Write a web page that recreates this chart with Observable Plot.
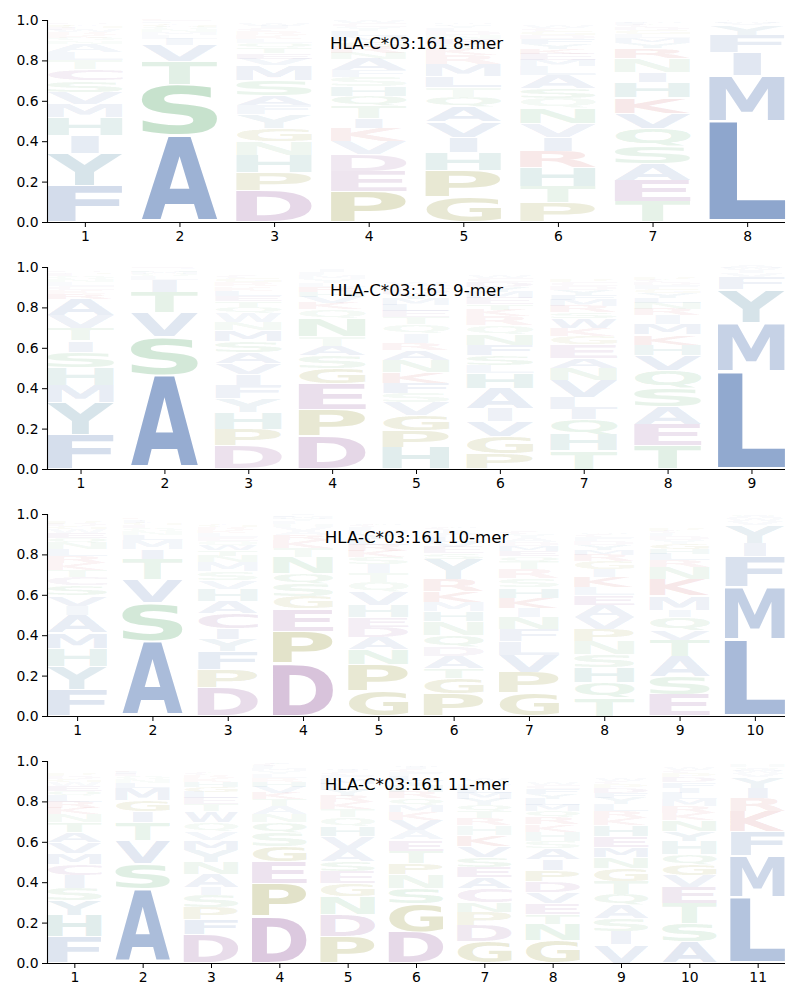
<!DOCTYPE html>
<html><head><meta charset="utf-8">
<script src="https://cdn.jsdelivr.net/npm/d3@7"></script>
<script src="https://cdn.jsdelivr.net/npm/@observablehq/plot@0.6"></script>
<style>body{margin:0;background:#fff} #chart svg{display:block}</style>
</head><body><div id="chart"></div>
<script>
// ---- Data (letter heights, listed bottom -> top for each position) ----
const titles = ["HLA-C*03:161 8-mer", "HLA-C*03:161 9-mer", "HLA-C*03:161 10-mer", "HLA-C*03:161 11-mer"];
const yTicks = [0, 0.2, 0.4, 0.6, 0.8, 1.0];

const mer8 = [
  {F:.18,Y:.16,I:.09,H:.088,M:.065,V:.06,S:.057,C:.055,T:.045,L:.042,A:.04,N:.015,Q:.015,K:.014,R:.012,W:.012,E:.01,G:.01,P:.008,D:.008},
  {A:.43,S:.25,T:.115,V:.08,I:.03,L:.02,M:.015,N:.015,Q:.012,G:.01,C:.008,F:.008,E:.005,K:.004},
  {D:.157,P:.086,H:.088,N:.07,G:.065,Y:.066,F:.046,A:.05,S:.074,M:.074,V:.03,E:.028,T:.026,Q:.024,L:.022,K:.02,R:.018,C:.016,I:.012,W:.01},
  {P:.15,E:.10,D:.083,V:.066,K:.066,I:.05,T:.058,Q:.05,H:.05,S:.045,F:.03,A:.058,N:.03,R:.03,G:.028,M:.025,L:.025,Y:.022,C:.018,W:.015},
  {G:.125,P:.13,H:.09,I:.075,V:.075,A:.075,Q:.05,T:.045,L:.055,M:.06,R:.045,K:.03,S:.025,E:.025,N:.02,D:.02,F:.015,Y:.012,C:.008,W:.005},
  {P:.095,T:.08,H:.095,R:.08,I:.07,V:.07,N:.075,Q:.045,S:.05,A:.065,L:.045,M:.03,E:.03,K:.025,Y:.025,F:.025,D:.02,G:.02,C:.015,W:.01},
  {T:.10,E:.105,A:.085,S:.085,Q:.09,V:.075,K:.075,H:.075,I:.05,N:.07,R:.05,Y:.025,M:.025,L:.02,G:.02,D:.015,C:.012,F:.01,W:.005},
  {L:.50,M:.225,I:.115,F:.085,Y:.05,V:.01,W:.008,A:.007}
];
const mer9 = [
  {F:.17,Y:.16,M:.085,H:.085,S:.08,I:.055,T:.06,V:.065,A:.08,R:.025,K:.02,C:.02,L:.02,N:.015,Q:.015,E:.01,G:.008,D:.007},
  {A:.465,S:.19,V:.12,T:.10,I:.06,L:.02,Q:.012,M:.01,N:.008,C:.005,G:.005,E:.005},
  {D:.115,P:.08,H:.083,Y:.07,F:.065,I:.055,V:.055,A:.055,S:.055,M:.055,N:.04,W:.045,Q:.03,T:.03,E:.025,L:.025,K:.02,R:.02,G:.02,C:.015},
  {D:.165,P:.13,E:.13,G:.075,S:.06,A:.05,T:.045,N:.09,Q:.045,K:.03,V:.03,H:.025,R:.025,L:.02,Y:.02,M:.02,F:.015,I:.01,C:.005},
  {H:.105,P:.085,G:.075,V:.065,S:.045,F:.05,K:.055,N:.06,A:.05,R:.035,I:.045,Q:.045,T:.035,E:.03,L:.03,M:.03,Y:.025,D:.025,C:.02,W:.015},
  {P:.075,G:.085,V:.075,I:.065,A:.1,H:.075,L:.04,S:.05,F:.05,N:.05,Q:.045,R:.045,K:.03,T:.03,E:.03,M:.03,Y:.025,D:.025,C:.02,W:.01},
  {T:.09,H:.08,Q:.075,I:.05,L:.06,V:.085,N:.06,A:.05,E:.065,G:.04,K:.04,W:.05,S:.03,R:.03,M:.03,F:.025,Y:.025,D:.02,C:.02,P:.015},
  {T:.115,E:.105,A:.09,S:.09,Q:.09,V:.075,H:.05,K:.05,M:.05,I:.045,R:.03,N:.03,L:.025,Y:.025,G:.02,F:.02,D:.015,C:.01,P:.01},
  {L:.485,M:.24,Y:.165,F:.06,V:.02,I:.015,W:.01,A:.01}
];
const mer10 = [
  {F:.13,Y:.115,H:.09,M:.075,A:.09,I:.045,V:.05,S:.05,C:.04,T:.035,K:.035,R:.035,L:.035,N:.03,Q:.025,E:.025,W:.02,G:.015,D:.01,P:.01},
  {A:.37,S:.19,V:.115,T:.10,I:.05,M:.045,L:.025,N:.02,Q:.015,E:.015,G:.01,F:.01,C:.008,K:.007},
  {D:.14,P:.09,F:.09,Y:.06,I:.055,C:.075,A:.06,H:.06,V:.04,S:.045,M:.045,N:.03,T:.03,W:.025,Q:.02,E:.02,L:.02,K:.015,R:.015,G:.01},
  {D:.26,P:.16,E:.11,G:.06,S:.065,Q:.05,N:.08,T:.045,K:.04,R:.025,A:.02,V:.02,H:.015,L:.015,Y:.012,M:.01,F:.008,I:.005},
  {G:.125,P:.13,N:.075,A:.06,D:.05,E:.05,H:.06,V:.065,Q:.045,T:.045,I:.045,S:.035,K:.03,R:.03,L:.03,Y:.025,M:.02,F:.015,C:.01,W:.005},
  {P:.11,G:.075,T:.05,A:.06,D:.045,Q:.06,N:.07,H:.05,M:.045,K:.05,R:.06,Y:.1,S:.03,E:.03,V:.025,L:.025,F:.02,I:.015,C:.01,W:.005},
  {G:.115,P:.1,V:.085,L:.07,F:.06,N:.06,I:.045,K:.05,H:.05,S:.045,R:.045,T:.04,Q:.025,E:.025,M:.025,D:.02,A:.02,Y:.02,C:.015},
  {T:.09,Q:.075,H:.075,S:.065,N:.065,P:.058,V:.06,A:.06,E:.05,L:.04,K:.05,I:.04,G:.04,R:.03,M:.025,Y:.025,D:.02,F:.02,C:.015,W:.005},
  {E:.105,S:.09,A:.1,T:.08,V:.05,Q:.065,I:.035,M:.07,K:.08,N:.06,R:.035,L:.03,H:.025,G:.025,Y:.02,D:.02,F:.015,C:.01,P:.01},
  {L:.38,M:.26,F:.15,I:.065,Y:.09,V:.02,W:.015,A:.01,Q:.005}
];
const mer11 = [
  {F:.13,H:.105,Y:.075,S:.06,I:.065,C:.055,M:.055,V:.05,A:.05,T:.05,N:.04,K:.03,R:.03,L:.03,Q:.025,E:.025,W:.02,G:.015,D:.015,P:.01},
  {A:.365,S:.125,V:.115,T:.09,I:.055,G:.055,M:.06,L:.025,N:.02,Q:.015,E:.012,F:.01,K:.008,C:.005},
  {D:.14,F:.075,P:.06,S:.06,I:.04,A:.065,N:.06,Y:.06,M:.05,V:.04,Q:.045,W:.055,T:.035,E:.03,L:.03,G:.025,H:.025,K:.02,R:.015,C:.01},
  {D:.23,P:.165,E:.105,G:.075,S:.07,Q:.05,N:.04,A:.04,T:.035,K:.03,V:.03,H:.025,R:.02,L:.02,Y:.015,M:.015,F:.01,C:.01,I:.005},
  {P:.13,D:.11,N:.09,G:.065,E:.06,S:.05,A:.06,V:.06,H:.05,Q:.045,T:.04,K:.035,R:.03,Y:.03,L:.03,M:.025,F:.02,C:.015,I:.01,W:.005},
  {D:.155,G:.14,S:.075,N:.07,P:.055,T:.06,E:.055,A:.045,V:.05,K:.04,M:.035,Q:.035,R:.03,H:.03,Y:.025,L:.025,F:.02,C:.015,I:.01,W:.005},
  {G:.105,D:.08,P:.065,N:.05,C:.07,A:.055,E:.05,S:.05,V:.055,K:.055,H:.045,R:.035,T:.035,Q:.03,Y:.03,M:.03,L:.025,F:.02,I:.015,W:.01},
  {G:.11,N:.08,T:.05,E:.055,V:.055,D:.055,P:.055,I:.055,A:.055,S:.035,H:.045,K:.035,R:.035,Q:.03,M:.03,L:.03,Y:.025,F:.025,C:.02,W:.01},
  {V:.09,I:.065,S:.065,A:.065,Q:.055,T:.065,G:.065,N:.055,M:.05,E:.05,H:.055,K:.035,R:.035,L:.035,Y:.03,F:.025,D:.025,P:.02,C:.015,W:.01},
  {A:.105,S:.09,T:.1,E:.08,V:.058,G:.055,Q:.05,H:.065,Y:.05,N:.055,K:.035,R:.035,M:.035,L:.03,I:.025,F:.025,D:.025,P:.02,C:.015,W:.01},
  {L:.325,M:.205,F:.12,K:.10,R:.065,I:.05,Y:.055,V:.02,W:.01,A:.01,Q:.01,H:.01}
];

// ---- Colour scheme by residue ----
const aminoAcids = ["A","V","L","I","M","F","W","Y","H","S","T","N","Q","K","R","D","E","C","P","G"];
const aaColors = ["#4c72b0","#4c72b0","#4c72b0","#4c72b0","#4c72b0","#4c72b0","#4c72b0",
                  "#4a84a0","#3f8f8a",
                  "#55a868","#55a868","#55a868","#55a868",
                  "#c44e52","#c44e52",
                  "#8c4f96","#8c4f96","#8c4f96",
                  "#808010","#808010"];

const panels = [mer8, mer9, mer10, mer11];

// ---- build stacked rows ----
function stackRows(cols) {
  const out = [];
  cols.forEach((col, i) => {
    let base = 0;
    for (const [aa, v] of Object.entries(col)) {
      out.push({pos: i + 1, aa, value: v, y1: base, y2: base + v});
      base += v;
    }
  });
  return out;
}

const FONT = "DejaVu Sans";
const ctx = document.createElement("canvas").getContext("2d");
ctx.font = `bold 100px "${FONT}"`;
const inkCache = {};
function ink(ch) {
  if (!inkCache[ch]) {
    const m = ctx.measureText(ch);
    inkCache[ch] = {l: m.actualBoundingBoxLeft, r: m.actualBoundingBoxRight, a: m.actualBoundingBoxAscent, d: m.actualBoundingBoxDescent};
  }
  return inkCache[ch];
}
const eInk = ink("E"); const eW = eInk.l + eInk.r;
const svgNS = "http://www.w3.org/2000/svg";
const vpad = 0.05, letterWidth = 0.8;
const container = document.getElementById("chart");

panels.forEach((cols, pi) => {
  const n = cols.length;
  const data = stackRows(cols);
  const positions = d3.range(1, n + 1);
  const chart = Plot.plot({
    width: 800, height: 247,
    marginLeft: 47, marginRight: 15, marginTop: 20, marginBottom: 25,
    style: {fontFamily: FONT, fontSize: "13.9px", color: "black", background: "white"},
    x: {type: "linear", domain: [1 - letterWidth / 2, n + letterWidth / 2], ticks: positions, tickFormat: d => String(d), tickSize: 5, tickPadding: 4, label: null},
    y: {domain: [0, 1], ticks: yTicks, tickFormat: d3.format(".1f"), tickSize: 5, tickPadding: 4, label: null},
    color: {type: "ordinal", domain: aminoAcids, range: aaColors},
    opacity: {type: "identity"},
    marks: [
      Plot.rect(data, {
        x1: d => d.pos - letterWidth / 2, x2: d => d.pos + letterWidth / 2,
        y1: d => d.y1 + d.value * vpad / 2, y2: d => d.y2 - d.value * vpad / 2,
        fill: "aa", fillOpacity: d => Math.min(1, 0.03 + 1.2 * d.value), inset: 0
      }),
      Plot.ruleX([1 - letterWidth / 2], {strokeWidth: 1.1}),
      Plot.ruleY([0], {strokeWidth: 1.1}),
      Plot.text([titles[pi]], {text: d => d, frameAnchor: "top", dy: 17, fontSize: 16.67, fill: "black"})
    ]
  });
  container.appendChild(chart);
  const rects = chart.querySelectorAll('g[aria-label="rect"] rect');
  rects.forEach((r, i) => {
    const d = data[i];
    const x = +r.getAttribute("x"), y = +r.getAttribute("y");
    const w = +r.getAttribute("width"), h = +r.getAttribute("height");
    const m = ink(d.aa);
    const iw = m.l + m.r, ih = m.a + m.d;
    let tw = w, ox = 0;
    if (iw < eW) { tw = w * iw / eW; ox = (w - tw) / 2; }
    const t = document.createElementNS(svgNS, "text");
    t.textContent = d.aa;
    t.setAttribute("font-family", FONT);
    t.setAttribute("font-weight", "bold");
    t.setAttribute("font-size", "100");
    t.setAttribute("text-anchor", "start");
    t.setAttribute("fill", r.getAttribute("fill"));
    const fo = r.getAttribute("fill-opacity");
    if (fo != null) t.setAttribute("fill-opacity", fo);
    t.setAttribute("transform", `translate(${x + ox},${y}) scale(${tw / iw},${h / ih}) translate(${m.l},${m.a})`);
    r.replaceWith(t);
  });
});
</script>
</body></html>
